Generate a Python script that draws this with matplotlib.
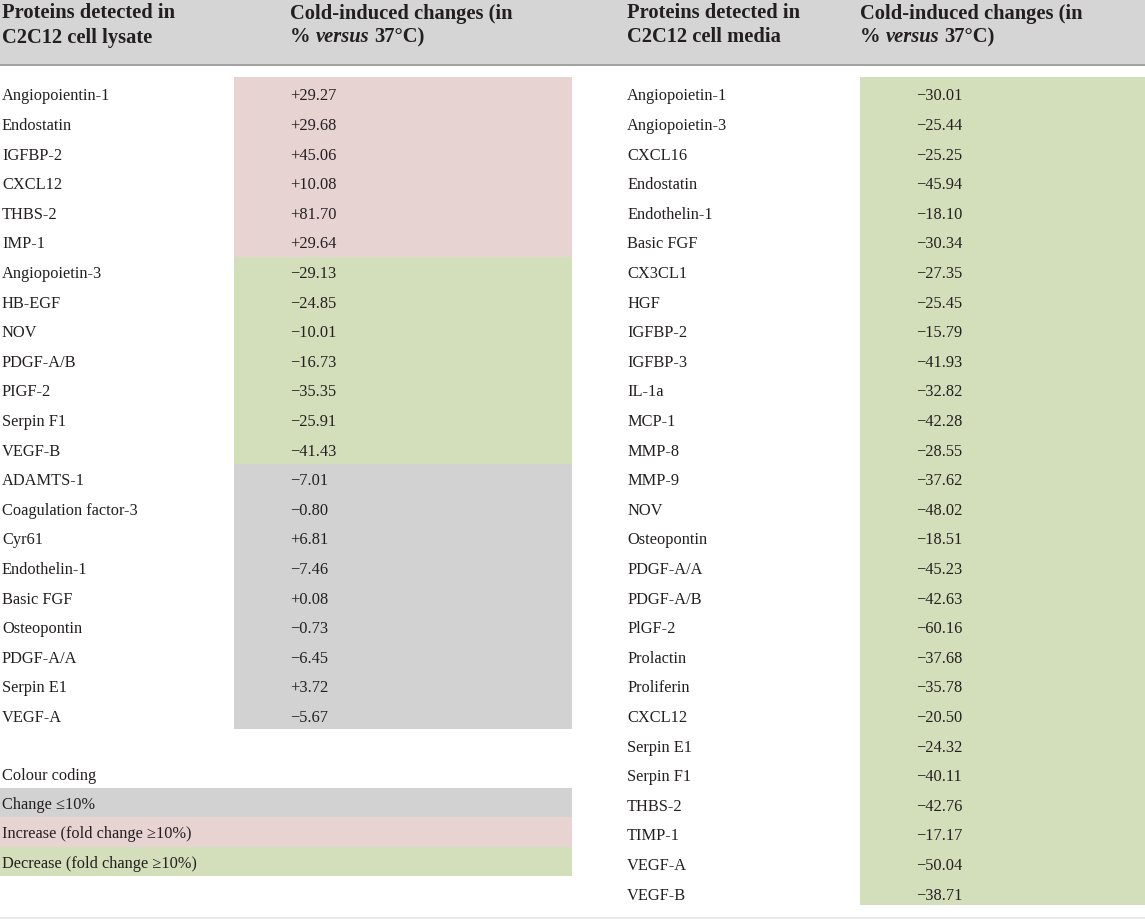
import matplotlib
matplotlib.use("Agg")
import matplotlib.pyplot as plt
from matplotlib.patches import Rectangle

# ---------------- data ----------------
lysate_proteins = ["Angiopoientin-1", "Endostatin", "IGFBP-2", "CXCL12", "THBS-2", "IMP-1",
                   "Angiopoietin-3", "HB-EGF", "NOV", "PDGF-A/B", "PIGF-2", "Serpin F1", "VEGF-B",
                   "ADAMTS-1", "Coagulation factor-3", "Cyr61", "Endothelin-1", "Basic FGF",
                   "Osteopontin", "PDGF-A/A", "Serpin E1", "VEGF-A"]
lysate_values = [29.27, 29.68, 45.06, 10.08, 81.70, 29.64,
                 -29.13, -24.85, -10.01, -16.73, -35.35, -25.91, -41.43,
                 -7.01, -0.80, 6.81, -7.46, 0.08, -0.73, -6.45, 3.72, -5.67]

media_proteins = ["Angiopoietin-1", "Angiopoietin-3", "CXCL16", "Endostatin", "Endothelin-1",
                  "Basic FGF", "CX3CL1", "HGF", "IGFBP-2", "IGFBP-3", "IL-1a", "MCP-1", "MMP-8",
                  "MMP-9", "NOV", "Osteopontin", "PDGF-A/A", "PDGF-A/B", "PlGF-2", "Prolactin",
                  "Proliferin", "CXCL12", "Serpin E1", "Serpin F1", "THBS-2", "TIMP-1",
                  "VEGF-A", "VEGF-B"]
media_values = [-30.01, -25.44, -25.25, -45.94, -18.10, -30.34, -27.35, -25.45, -15.79,
                -41.93, -32.82, -42.28, -28.55, -37.62, -48.02, -18.51, -45.23, -42.63,
                -60.16, -37.68, -35.78, -20.50, -24.32, -40.11, -42.76, -17.17, -50.04, -38.71]

header_name_left = ["Proteins detected in", "C2C12 cell lysate"]
header_name_right = ["Proteins detected in", "C2C12 cell media"]
header_value_line1 = "Cold-induced changes (in"
header_value_line2 = [("%", "normal"), ("versus", "italic"), ("37°C)", "normal")]
legend_title = "Colour coding"
legend_labels = ["Change ≤10%", "Increase (fold change ≥10%)", "Decrease (fold change ≥10%)"]

# ---------------- style ----------------
C_GREY = "#d2d2d2"
C_PINK = "#e8d3d3"
C_GREEN = "#d3dfbb"
C_HEAD = "#d5d5d5"
TXT = "#231f20"
FONT = "Liberation Serif"
HDR_SIZE = 14.8
BODY_SIZE = 11.8


def colour_for(v):
    if v >= 10:
        return C_PINK
    if v <= -10:
        return C_GREEN
    return C_GREY


def fmt(v):
    s = f"{abs(v):.2f}"
    return ("+" if v >= 0 else "\u2212") + s


W, H = 1145, 920
fig = plt.figure(figsize=(W / 100, H / 100), dpi=100)
ax = fig.add_axes([0, 0, 1, 1])
ax.set_xlim(0, W)
ax.set_ylim(H, 0)
ax.axis("off")
renderer = fig.canvas.get_renderer()

# header band
ax.add_patch(Rectangle((0, 0), W, 65, facecolor=C_HEAD, edgecolor="none"))
ax.plot([0, W], [66, 66], color="#9a9a9a", lw=1.3, solid_capstyle="butt")
ax.plot([0, W], [919, 919], color="#e6e6e6", lw=1.2, solid_capstyle="butt")

hdr_kw = dict(fontsize=HDR_SIZE, fontweight="bold", family=FONT, color=TXT,
              va="baseline", ha="left")
BASE1, BASE2 = 18.5, 42.5


def text_width(s, **kw):
    t = ax.text(0, 0, s, **kw)
    w = t.get_window_extent(renderer).width
    t.remove()
    return w


space_w = text_width("a a", **hdr_kw) - text_width("aa", **hdr_kw)


def draw_value_header(x):
    ax.text(x, BASE1, header_value_line1, **hdr_kw)
    cx = x
    for k, (piece, style) in enumerate(header_value_line2):
        t = ax.text(cx, BASE2, piece, style=style, **hdr_kw)
        cx = t.get_window_extent(renderer).x1 + space_w


for x, lines in [(2, header_name_left), (627, header_name_right)]:
    ax.text(x, BASE1, lines[0], **hdr_kw)
    ax.text(x, BASE2, lines[1], **hdr_kw)
draw_value_header(290)
draw_value_header(860)

body_kw = dict(fontsize=BODY_SIZE, family=FONT, color=TXT, va="baseline", ha="left")

y0 = 95.0
step = 29.6
BOFF = 5.5
# left table
for i, (p, v) in enumerate(zip(lysate_proteins, lysate_values)):
    yc = y0 + i * step
    top = 78 if i == 0 else yc - step / 2
    bot = yc + step / 2 if i < len(lysate_values) - 1 else 730
    ax.add_patch(Rectangle((234, top), 572 - 234, bot - top, facecolor=colour_for(v),
                           edgecolor="none"))
    ax.text(2, yc + BOFF, p, **body_kw)
    ax.text(290, yc + BOFF, fmt(v), **body_kw)

# right table
for i, (p, v) in enumerate(zip(media_proteins, media_values)):
    yc = y0 + i * step
    top = 78 if i == 0 else yc - step / 2
    bot = yc + step / 2 if i < len(media_values) - 1 else 906
    ax.add_patch(Rectangle((860, top), W - 860, bot - top, facecolor=colour_for(v),
                           edgecolor="none"))
    ax.text(627, yc + BOFF, p, **body_kw)
    ax.text(916, yc + BOFF, fmt(v), **body_kw)

# legend
ax.text(2, 775 + BOFF, legend_title, **body_kw)
leg_cols = [C_GREY, C_PINK, C_GREEN]
for j, (lab, c) in enumerate(zip(legend_labels, leg_cols)):
    top = 788.5 + j * 29.6
    ax.add_patch(Rectangle((0, top), 572, 29.6, facecolor=c, edgecolor="none"))
    ax.text(2, top + 14.8 + BOFF, lab, **body_kw)

fig.savefig("out.png", dpi=100)
